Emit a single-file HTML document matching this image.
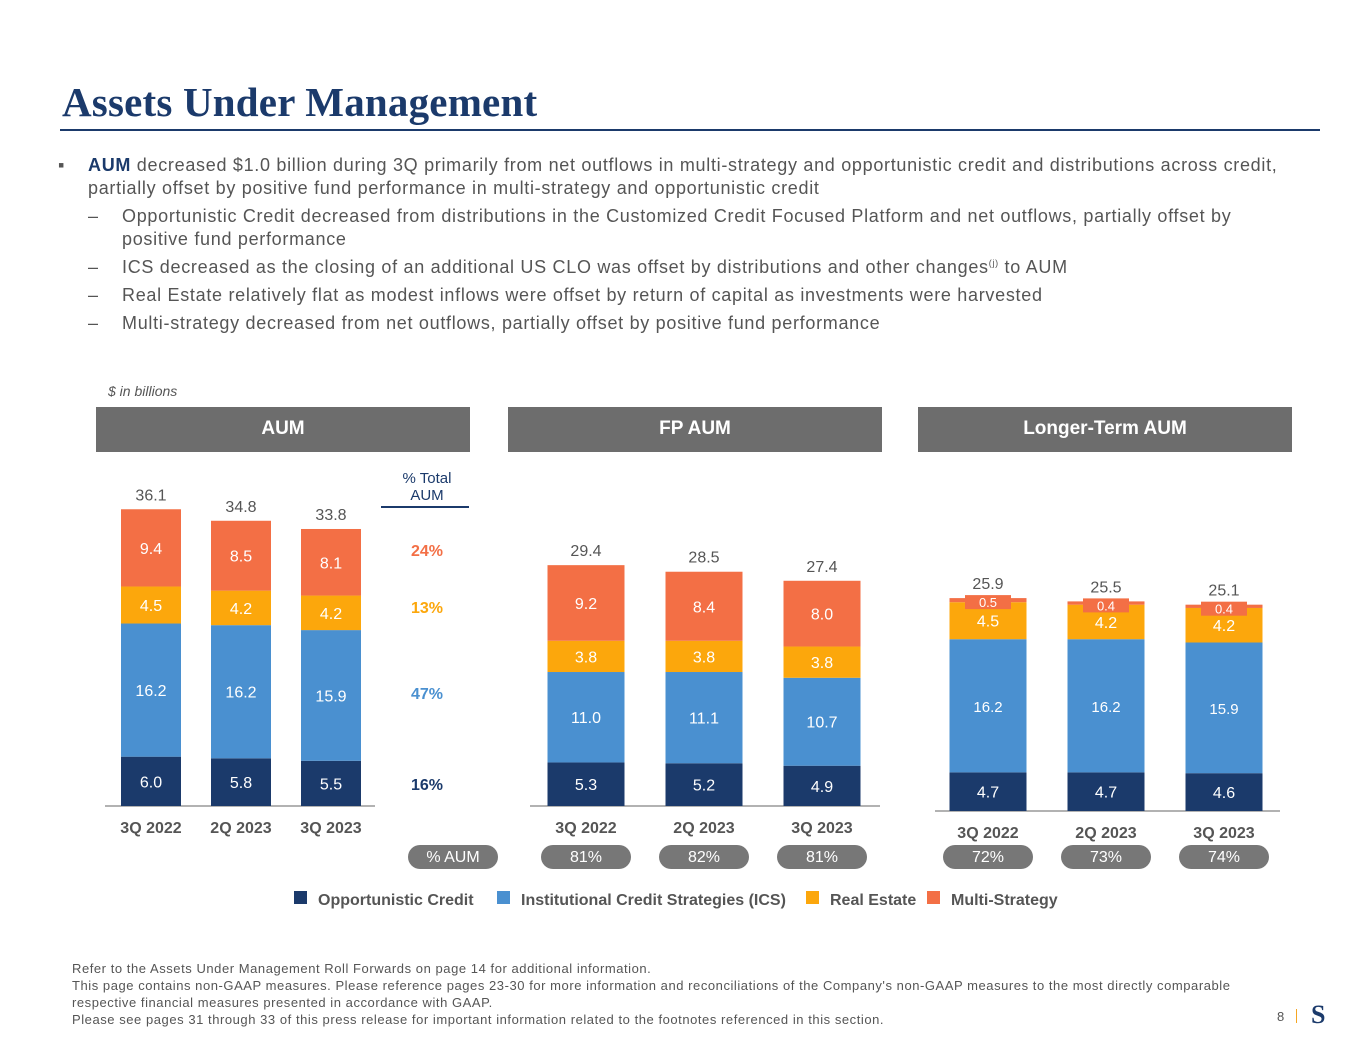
<!DOCTYPE html>
<html><head><meta charset="utf-8"><style>
body{margin:0;width:1365px;height:1055px;background:#fff;font-family:"Liberation Sans",sans-serif;position:relative;overflow:hidden}
.a{position:absolute}
.title{left:62px;top:78px;font-family:"Liberation Serif",serif;font-weight:bold;font-size:41px;letter-spacing:0.2px;color:#1b3a6b}
.rule{left:60px;top:129px;width:1260px;height:2px;background:#1b3a6b}
.bul{left:70px;top:154px;width:1260px;font-size:18px;letter-spacing:0.7px;color:#555;line-height:23px;white-space:nowrap}
.bul p{margin:0 0 5px 0;position:relative}
.hdr{top:407px;height:45px;background:#6d6d6d;color:#fff;font-weight:bold;font-size:19px;text-align:center;line-height:43px;width:374px}
.foot{left:72px;top:960px;font-size:13px;letter-spacing:0.55px;color:#555;line-height:17px;white-space:nowrap}
</style></head><body>
<div class="a title">Assets Under Management</div>
<div class="a rule"></div>
<div class="a bul">
<p style="padding-left:18px"><span style="position:absolute;left:-12px;top:0">▪</span><b style="color:#1b3a6b">AUM</b> decreased $1.0 billion during 3Q primarily from net outflows in multi-strategy and opportunistic credit and distributions across credit,<br>partially offset by positive fund performance in multi-strategy and opportunistic credit</p>
<p style="padding-left:52px"><span style="position:absolute;left:18px">–</span>Opportunistic Credit decreased from distributions in the Customized Credit Focused Platform and net outflows, partially offset by<br>positive fund performance</p>
<p style="padding-left:52px"><span style="position:absolute;left:18px">–</span>ICS decreased as the closing of an additional US CLO was offset by distributions and other changes<sup style="font-size:9px;line-height:0">(j)</sup> to AUM</p>
<p style="padding-left:52px"><span style="position:absolute;left:18px">–</span>Real Estate relatively flat as modest inflows were offset by return of capital as investments were harvested</p>
<p style="padding-left:52px"><span style="position:absolute;left:18px">–</span>Multi-strategy decreased from net outflows, partially offset by positive fund performance</p>
</div>
<div class="a" style="left:108px;top:383px;font-size:14px;font-style:italic;color:#555">$ in billions</div>
<div class="a hdr" style="left:96px">AUM</div>
<div class="a hdr" style="left:508px">FP AUM</div>
<div class="a hdr" style="left:918px">Longer-Term AUM</div>
<svg class="a" style="left:0;top:0" width="1365" height="1055" id="chart"></svg>
<div class="a foot">Refer to the Assets Under Management Roll Forwards on page 14 for additional information.<br>This page contains non-GAAP measures. Please reference pages 23-30 for more information and reconciliations of the Company's non-GAAP measures to the most directly comparable<br>respective financial measures presented in accordance with GAAP.<br>Please see pages 31 through 33 of this press release for important information related to the footnotes referenced in this section.</div>
<div class="a" style="left:1277px;top:1009px;font-size:13px;color:#555">8</div>
<div class="a" style="left:1296px;top:1009px;width:1px;height:14px;background:#f5a623"></div>
<div class="a" style="left:1311px;top:1000px;font-family:'Liberation Serif',serif;font-weight:bold;font-size:26px;color:#1b3a6b">S</div>
<script>
const categories=["3Q 2022","2Q 2023","3Q 2023"];
const seriesNames=["Opportunistic Credit","Institutional Credit Strategies (ICS)","Real Estate","Multi-Strategy"];
const aumOC=[6.0,5.8,5.5], aumICS=[16.2,16.2,15.9], aumRE=[4.5,4.2,4.2], aumMS=[9.4,8.5,8.1], aumTotal=[36.1,34.8,33.8];
const fpOC=[5.3,5.2,4.9], fpICS=[11.0,11.1,10.7], fpRE=[3.8,3.8,3.8], fpMS=[9.2,8.4,8.0], fpTotal=[29.4,28.5,27.4];
const ltOC=[4.7,4.7,4.6], ltICS=[16.2,16.2,15.9], ltRE=[4.5,4.2,4.2], ltMS=[0.5,0.4,0.4], ltTotal=[25.9,25.5,25.1];
const pctTotal=["24%","13%","47%","16%"];
const fpPct=["81%","82%","81%"], ltPct=["72%","73%","74%"];
const colors=["#1b3a6b","#4a90d0","#fca70c","#f36f45"];
const NS="http://www.w3.org/2000/svg", svg=document.getElementById('chart');
function mk(t,a,txt){const e=document.createElementNS(NS,t);for(const k in a)e.setAttribute(k,a[k]);if(txt!==undefined)e.textContent=txt;svg.appendChild(e);return e;}
const K=8.22;
function panel(name,series,totals,x0,step,w,base,ax0,ax1,small){
  const y=v=>v*K;
  const ln=mk('line',{x1:ax0,x2:ax1,y1:base,y2:base,stroke:'#666','stroke-width':1});
  
  
  categories.forEach((c,i)=>{
    const cx=x0+i*step; let top=base;
    series.forEach((s,j)=>{
      const h=y(s[i]); top-=h;
      const r=mk('rect',{x:cx-w/2,y:top,width:w,height:h,fill:colors[j]});
      
      
      let ty=top+h/2+6, fs=small&&j==1?15:16;
      if(j==3&&small){
        const b=mk('rect',{x:cx-23,y:top-3,width:46,height:14,fill:'#f36f45'});
        
        
        ty=top+9; fs=13;
      }
      const t=mk('text',{x:cx,y:ty,'text-anchor':'middle',fill:'#fff','font-size':fs},s[i].toFixed(1));
      
      
    });
    const tt=mk('text',{x:cx,y:top-9,'text-anchor':'middle',fill:'#555','font-size':16},totals[i].toFixed(1));
    
    
    const cl=mk('text',{x:cx,y:base+27,'text-anchor':'middle',fill:'#555','font-size':16,'font-weight':'bold'},c);
    
    
  });
}
panel('aum',[aumOC,aumICS,aumRE,aumMS],aumTotal,151,90,60,806,105,375,false);
panel('fp-aum',[fpOC,fpICS,fpRE,fpMS],fpTotal,586,118,77,806,530,880,false);
panel('lt-aum',[ltOC,ltICS,ltRE,ltMS],ltTotal,988,118,77,811,935,1280,true);
let t0=mk('text',{x:427,y:483,'text-anchor':'middle',fill:'#1b3a6b','font-size':15},'% Total');


let t1=mk('text',{x:427,y:500,'text-anchor':'middle',fill:'#1b3a6b','font-size':15},'AUM');


let ul=mk('line',{x1:381,x2:469,y1:507,y2:507,stroke:'#1b3a6b','stroke-width':2});


const pctY=[556,613,699,790], pctC=[colors[3],colors[2],colors[1],colors[0]];
pctTotal.forEach((p,i)=>{const e=mk('text',{x:427,y:pctY[i],'text-anchor':'middle',fill:pctC[i],'font-size':16,'font-weight':'bold'},p);

});
function pill(cx,label,nm){const r=mk('rect',{x:cx-45,y:845,width:90,height:24,rx:12,fill:'#777'});


const t=mk('text',{x:cx,y:862,'text-anchor':'middle',fill:'#fff','font-size':16},label);

}
pill(453,'% AUM','pct-aum');
fpPct.forEach((p,i)=>pill(586+i*118,p,'fp-pct-'+i));
ltPct.forEach((p,i)=>pill(988+i*118,p,'lt-pct-'+i));
const legX=[294,497,806,927];
seriesNames.forEach((n,i)=>{const r=mk('rect',{x:legX[i],y:891,width:13,height:13,fill:colors[i]});


const t=mk('text',{x:legX[i]+24,y:905,fill:'#555','font-size':16,'font-weight':'bold'},n);

});
</script>
</body></html>
